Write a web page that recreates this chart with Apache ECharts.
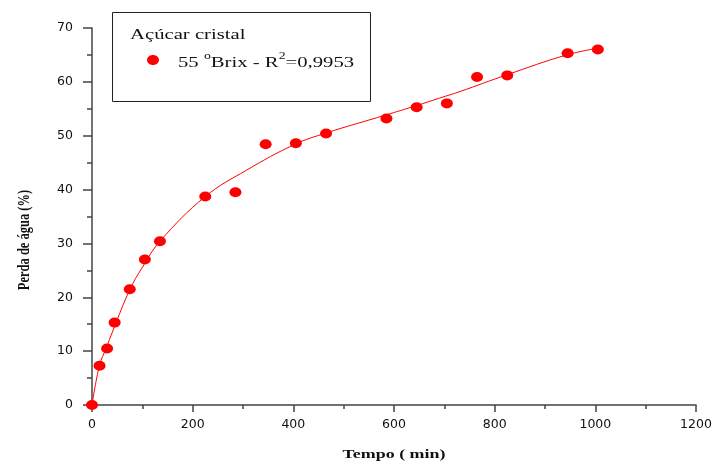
<!DOCTYPE html>
<html><head><meta charset="utf-8">
<script src="https://cdn.jsdelivr.net/npm/echarts@6/dist/echarts.min.js"></script>
<style>html,body{margin:0;padding:0;background:#fff}#c{width:717px;height:465px}</style>
</head><body><div id="c"></div>
<script>
// Measured points: Tempo (min) vs Perda de água (%)
var tempo = [0, 15, 30, 45, 75, 105, 135, 225, 285, 345, 405, 465, 585, 645, 705, 765, 825, 945, 1005];
var perda = [0, 7.3, 10.5, 15.3, 21.5, 27.0, 30.4, 38.7, 39.5, 48.4, 48.6, 50.4, 53.2, 55.3, 56.0, 60.9, 61.2, 65.3, 66.0];
// Fitted curve
var fitX = [0, 15, 28, 42, 75, 99, 135, 225, 307, 403, 465, 582, 645, 691, 731, 824, 943, 1008];
var fitY = [0, 7.4, 10.5, 13.9, 21.4, 25.4, 30.4, 38.7, 43.6, 48.4, 50.5, 53.8, 55.6, 57.0, 58.2, 61.3, 65.0, 66.3];
var xTicks = [0, 200, 400, 600, 800, 1000, 1200];
var yTicks = [0, 10, 20, 30, 40, 50, 60, 70];
var xTitle = 'Tempo ( min)';
var yTitle = 'Perda de água (%)';
var legendTitle = 'Açúcar cristal';
var seriesName = '55 °Brix - R²=0,9953';

var pts = tempo.map(function (t, i) { return [t, perda[i]]; });
var fit = fitX.map(function (t, i) { return [t, fitY[i]]; });

var AX = '#444';
var serif = '"Liberation Serif", "Times New Roman", serif';
var labelFont = { color: '#111', fontFamily: '"DejaVu Sans", Arial, sans-serif', fontSize: 12.5 };
var stretch = 1.38;

var chart = echarts.init(document.getElementById('c'), null, { renderer: 'canvas' });
chart.setOption({
  animation: false,
  backgroundColor: '#fff',
  grid: { left: 92, right: 21, top: 28, bottom: 60, containLabel: false },
  xAxis: {
    type: 'value', min: xTicks[0], max: xTicks[xTicks.length - 1], interval: 200,
    axisLine: { show: true, onZero: false, lineStyle: { color: AX, width: 1.5 } },
    axisTick: { show: true, inside: false, length: 7, lineStyle: { color: AX, width: 1.5 } },
    minorTick: { show: true, splitNumber: 2, length: 4, lineStyle: { color: AX, width: 1.5 } },
    splitLine: { show: false },
    axisLabel: Object.assign({ margin: 13, formatter: function (v) { return String(v); } }, labelFont)
  },
  yAxis: {
    type: 'value', min: yTicks[0], max: yTicks[yTicks.length - 1], interval: 10,
    axisLine: { show: true, onZero: false, lineStyle: { color: AX, width: 1.5 } },
    axisTick: { show: true, inside: false, length: 9, lineStyle: { color: AX, width: 1.5 } },
    minorTick: { show: true, splitNumber: 2, length: 5, lineStyle: { color: AX, width: 1.5 } },
    splitLine: { show: false },
    axisLabel: Object.assign({ margin: 19, formatter: function (v) { return String(v); } }, labelFont)
  },
  graphic: [
    { type: 'rect', shape: { x: 112.5, y: 12.5, width: 258, height: 89 }, style: { fill: 'none', stroke: '#222', lineWidth: 1 }, z: 10 },
    { type: 'text', x: 130, y: 35, scaleX: stretch, z: 10,
      style: { text: legendTitle, x: 0, y: 0, font: '15px ' + serif, fill: '#111', textVerticalAlign: 'middle', verticalAlign: 'middle' } },
    { type: 'ellipse', shape: { cx: 153, cy: 60, rx: 6, ry: 5 }, style: { fill: '#ff0000' }, z: 10 },
    { type: 'text', x: 178, y: 61, scaleX: stretch, z: 10,
      style: {
        text: '{n|55 }{s|o}{n|Brix - R}{s|2}{n|=0,9953}', x: 0, y: 0, textVerticalAlign: 'middle', verticalAlign: 'middle',
        rich: {
          n: { font: '15px ' + serif, fill: '#111', lineHeight: 20, verticalAlign: 'bottom' },
          s: { font: '10px ' + serif, fill: '#111', lineHeight: 20, verticalAlign: 'top' }
        }
      } },
    { type: 'text', x: 394, y: 455, scaleX: stretch, z: 10,
      style: { text: xTitle, x: 0, y: 0, font: 'bold 13px ' + serif, fill: '#111', textAlign: 'center', textVerticalAlign: 'middle', verticalAlign: 'middle', align: 'center' } },
    { type: 'text', x: 24.5, y: 240, rotation: Math.PI / 2, scaleY: 1.3, z: 10,
      style: { text: yTitle, x: 0, y: 0, font: 'bold 12.5px ' + serif, fill: '#111', textAlign: 'center', textVerticalAlign: 'middle', verticalAlign: 'middle', align: 'center' } }
  ],
  series: [
    {
      name: 'fit', type: 'line', data: fit, smooth: 0.4, showSymbol: false,
      lineStyle: { color: '#ff0000', width: 1 }, itemStyle: { color: '#ff0000' }, z: 2
    },
    {
      name: seriesName, type: 'scatter', data: pts, symbol: 'circle', symbolSize: [12, 10],
      itemStyle: { color: '#ff0000', opacity: 1 }, z: 3
    }
  ]
});
</script></body></html>
